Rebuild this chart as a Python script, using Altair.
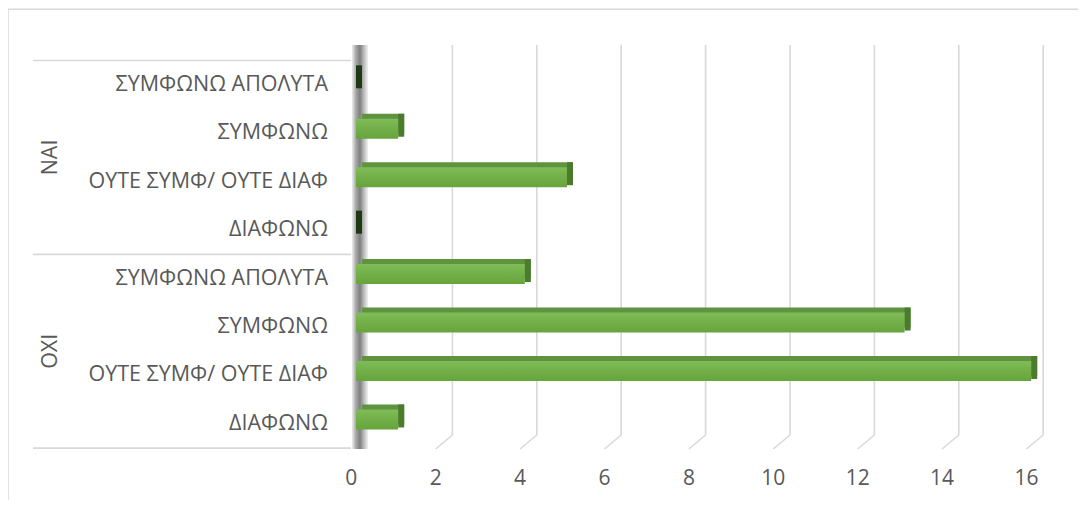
import altair as alt
import pandas as pd

# ---- data ----
groups = ["ΝΑΙ", "ΟΧΙ"]
categories = ["ΣΥΜΦΩΝΩ ΑΠΟΛΥΤΑ", "ΣΥΜΦΩΝΩ", "ΟΥΤΕ ΣΥΜΦ/ ΟΥΤΕ ΔΙΑΦ", "ΔΙΑΦΩΝΩ"]
nai_values = [0, 1, 5, 0]
oxi_values = [4, 13, 16, 1]
tick_values = [0, 2, 4, 6, 8, 10, 12, 14, 16]

rows = []
for g, vals in zip(groups, [nai_values, oxi_values]):
    for c, v in zip(categories, vals):
        rows.append({"group": g, "category": c, "value": v, "row": len(rows)})
bars_df = pd.DataFrame(rows)
grp_df = pd.DataFrame({"group": groups,
                       "row": [bars_df[bars_df.group == g].row.mean() for g in groups]})
sep_df = pd.DataFrame({"row": [-0.5, 3.5, 7.5]})
tick_df = pd.DataFrame({"tick": tick_values})
grid_df = tick_df[tick_df.tick > 0]
one = pd.DataFrame({"k": [0]})

FONT = "Open Sans"
TXT = "#595959"
GRID = "#d9d9d9"

xs = alt.Scale(domain=[-8.2464, 17.109], nice=False, zero=False, padding=0)
ys = alt.Scale(domain=[-1.5851, 8.5697], nice=False, zero=False, reverse=True, padding=0)

X = lambda f: alt.X(f, scale=xs, axis=None)
Y = lambda f: alt.Y(f, scale=ys, axis=None)

# frame (top and left border)
frame_top = alt.Chart(one).mark_rule(color=GRID, strokeWidth=1.5).encode(
    x=alt.value(0), x2=alt.value(1070), y=alt.value(1.3))
frame_left = alt.Chart(one).mark_rule(color=GRID, strokeWidth=1.5).encode(
    x=alt.value(0), y=alt.value(1), y2=alt.value(492))

# 3D wall behind the category axis
wall_fill = alt.Gradient(
    gradient="linear", x1=0, y1=0, x2=1, y2=0,
    stops=[alt.GradientStop(offset=0, color="#ededed"),
           alt.GradientStop(offset=0.25, color="#a6a6a6"),
           alt.GradientStop(offset=0.5, color="#7f7f7f"),
           alt.GradientStop(offset=0.75, color="#bdbdbd"),
           alt.GradientStop(offset=1, color="#f2f2f2")])
wall = alt.Chart(one).mark_rect(fill=wall_fill, xOffset=-4, x2Offset=12).encode(
    x=alt.X(datum=0, scale=xs, axis=None), x2=alt.datum(0),
    y=alt.value(37), y2=alt.value(441))

# grid lines (back wall vertical + floor diagonal)
grid_v = alt.Chart(grid_df).mark_rule(color=GRID, strokeWidth=1.6, xOffset=12).encode(
    x=X("tick:Q"), y=alt.value(37), y2=alt.value(427))
grid_d = alt.Chart(grid_df).mark_rule(color=GRID, strokeWidth=1.6, xOffset=12, x2Offset=-4.7).encode(
    x=X("tick:Q"), x2="tick", y=alt.value(427), y2=alt.value(441))

# category separators
seps = alt.Chart(sep_df).mark_rule(color=GRID, strokeWidth=1.6).encode(
    x=alt.value(25), x2=alt.value(343), y=Y("row:Q"))

# bars: top face (back), end cap, front face
back = alt.Chart(bars_df).mark_bar(orient="horizontal", size=20, xOffset=6, x2Offset=6,
                                   yOffset=-9.5, color="#5f9340").encode(
    x=X("value:Q"), x2=alt.datum(0), y=Y("row:Q"))
cap = alt.Chart(bars_df).mark_bar(orient="horizontal", size=23, x2Offset=6, yOffset=-8).encode(
    x=X("value:Q"), x2="value", y=Y("row:Q"),
    color=alt.condition(alt.datum.value == 0, alt.value("#1d3813"), alt.value("#4b7b2d")))
front_fill = alt.Gradient(
    gradient="linear", x1=0, y1=0, x2=0, y2=1,
    stops=[alt.GradientStop(offset=0, color="#80bd58"),
           alt.GradientStop(offset=0.5, color="#72af48"),
           alt.GradientStop(offset=1, color="#66a43c")])
front = alt.Chart(bars_df).mark_bar(orient="horizontal", size=20, yOffset=-4.5,
                                    fill=front_fill).encode(
    x=X("value:Q"), x2=alt.datum(0), y=Y("row:Q"))

# texts
cat_text = alt.Chart(bars_df).mark_text(align="right", baseline="middle", font=FONT,
                                        fontSize=21.5, color=TXT).encode(
    x=alt.value(320), y=Y("row:Q"), text="category:N")
grp_text = alt.Chart(grp_df).mark_text(align="center", baseline="middle", angle=270,
                                       font=FONT, fontSize=21.5, color=TXT).encode(
    x=alt.value(43), y=Y("row:Q"), text="group:N")
tick_text = alt.Chart(tick_df).mark_text(align="center", baseline="middle", xOffset=-4.7,
                                         font=FONT, fontSize=21, color=TXT).encode(
    x=X("tick:Q"), y=alt.value(471), text="tick:Q")

chart = alt.layer(
    frame_top, frame_left, grid_v, grid_d, seps, wall, back, cap, front,
    cat_text, grp_text, tick_text
).properties(
    width=1070, height=492,
    autosize=alt.AutoSizeParams(type="none"),
    padding=0,
    background="white",
).configure_view(stroke=None)

chart.save("out.html", embed_options={"renderer": "svg", "actions": False})
